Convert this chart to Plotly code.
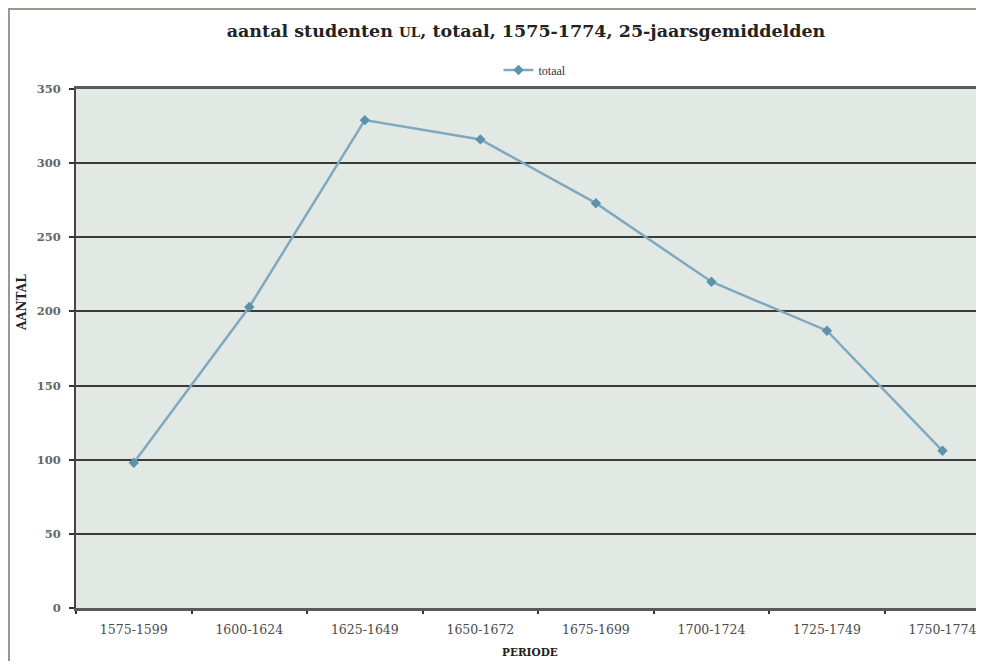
import plotly.graph_objects as go

periods = ["1575-1599", "1600-1624", "1625-1649", "1650-1672",
           "1675-1699", "1700-1724", "1725-1749", "1750-1774"]
totaal = [98, 203, 329, 316, 273, 220, 187, 106]
y_ticks = [0, 50, 100, 150, 200, 250, 300, 350]

# the page body adds an 8px margin on every side
OFF = 8
W, H = 984 - 2 * OFF, 669 - 2 * OFF
ML, MR, MT = 76 - OFF, 0, 89 - OFF
MB = H - (608 - OFF)
PW, PH = W - ML - MR, H - MT - MB

def px_x(p):
    # p given in page pixels
    return (p - OFF - ML) / PW

def px_y(p):
    return (H - MB - (p - OFF)) / PH

fig = go.Figure()
fig.add_trace(go.Scatter(
    x=periods, y=totaal, name="totaal", mode="lines+markers",
    line=dict(color="#7fa9c0", width=2.5),
    marker=dict(symbol="diamond", size=8, color="#5b93aa"),
))

serif = "DejaVu Serif, Liberation Serif, serif"

fig.update_layout(
    width=W, height=H,
    margin=dict(l=ML, r=MR, t=MT, b=MB),
    paper_bgcolor="#ffffff",
    plot_bgcolor="#e2e8e4",
    title=dict(
        text="aantal studenten <span style='font-size:13.5px'>UL</span>, totaal, 1575-1774, 25-jaarsgemiddelden",
        x=0.5, xref="paper", xanchor="center", y=1 - (31 - OFF) / H, yanchor="middle",
        font=dict(family=serif, size=17.5, color="#222222", weight="bold"),
    ),
    showlegend=True,
    legend=dict(
        orientation="h", x=px_x(535), xanchor="center", y=px_y(70), yanchor="middle",
        xref="paper", yref="paper",
        font=dict(family="Liberation Serif, serif", size=12, color="#333333"),
        bgcolor="rgba(0,0,0,0)", itemwidth=30,
    ),
    xaxis=dict(
        type="category", range=[-0.5, 7.29],
        showgrid=False, showline=True, mirror=True, linecolor="#5a5a5a", linewidth=3,
        ticks="outside", tickson="boundaries", ticklen=3, tickcolor="#333333", tickwidth=2,
        ticklabelstandoff=8,
        tickfont=dict(family=serif, size=12.5, color="#4a4a4a"),
        zeroline=False, fixedrange=True,
    ),
    yaxis=dict(
        range=[0, 350], tickvals=y_ticks,
        showgrid=True, gridcolor="#3a3a3a", gridwidth=2,
        showline=True, linecolor="#444444", linewidth=2,
        ticks="outside", ticklen=5, tickcolor="#333333", tickwidth=2,
        ticklabelstandoff=6,
        tickfont=dict(family=serif, size=11.5, color="#666666", weight="bold"),
        zeroline=False, fixedrange=True,
    ),
    shapes=[
        dict(type="rect", xref="paper", yref="paper", layer="below",
             x0=px_x(OFF), x1=px_x(10), y0=px_y(669), y1=px_y(OFF),
             fillcolor="#9b988b", line=dict(width=0)),
        dict(type="rect", xref="paper", yref="paper", layer="below",
             x0=px_x(OFF), x1=px_x(984), y0=px_y(10), y1=px_y(OFF),
             fillcolor="#9b988b", line=dict(width=0)),
    ],
    annotations=[
        dict(text="AANTAL", xref="paper", yref="paper", x=px_x(22), y=px_y(303),
             textangle=-90, showarrow=False, xanchor="center", yanchor="middle",
             font=dict(family=serif, size=12, color="#222222", weight="bold")),
        dict(text="PERIODE", xref="paper", yref="paper", x=px_x(530), y=px_y(652),
             showarrow=False, xanchor="center", yanchor="middle",
             font=dict(family=serif, size=10.5, color="#222222", weight="bold")),
    ],
)

fig.write_html("out.html")
